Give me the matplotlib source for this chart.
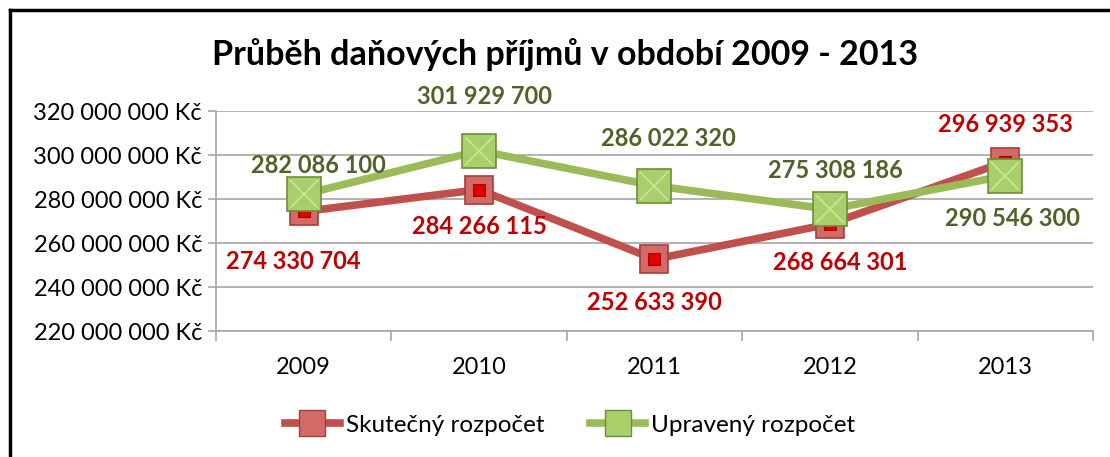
import numpy as np
import matplotlib.pyplot as plt
from matplotlib.lines import Line2D
from matplotlib.ticker import FuncFormatter, FixedLocator

plt.rcParams['font.family'] = ['Lato', 'DejaVu Sans']

# data
roky = ['2009', '2010', '2011', '2012', '2013']
skutecny = [274330704, 284266115, 252633390, 268664301, 296939353]
upraveny = [282086100, 301929700, 286022320, 275308186, 290546300]

# posun popisku v pixelech
off_skut = [(-10, -50), (0, -37), (0, -43), (10, -39), (0, 37)]
off_upr = [(15, 29), (5, 54), (14, 47), (6, 39), (7, -43)]

red = '#C0504D'
red_txt = '#C00000'
green = '#9BBB59'
green_txt = '#4F6228'

fig = plt.figure(figsize=(11.1, 4.57), dpi=100)
ax = fig.add_axes([0.1946, 0.2757, 0.79, 0.4814])

x = np.arange(len(roky))


def fmt(v):
    return f'{v:,.0f}'.replace(',', ' ')


ax.plot(x, skutecny, color=red, lw=5.5, solid_joinstyle='round', zorder=3)
ax.plot(x, skutecny, ls='none', marker='s', ms=20, mfc='#D46A67', mec='#A33E3B', mew=1.2, zorder=4)
ax.plot(x, skutecny, ls='none', marker='s', ms=9, mfc='#E00000', mec='#B00000', mew=0.8, zorder=5)

ax.plot(x, upraveny, color=green, lw=5.5, solid_joinstyle='round', zorder=6)
ax.plot(x, upraveny, ls='none', marker='s', ms=24, mfc='#A9CF6A', mec='#6E8C3A', mew=1.2, zorder=7)
ax.plot(x, upraveny, ls='none', marker='x', ms=20, mec='#C7E59A', mew=1.2, zorder=8)

for i in range(len(roky)):
    ax.annotate(fmt(skutecny[i]), (x[i], skutecny[i]), xytext=off_skut[i], textcoords='offset pixels',
                ha='center', va='center', fontsize=17, fontweight='bold', color=red_txt, zorder=9)
    ax.annotate(fmt(upraveny[i]), (x[i], upraveny[i]), xytext=off_upr[i], textcoords='offset pixels',
                ha='center', va='center', fontsize=17, fontweight='bold', color=green_txt, zorder=9)

ax.set_xlim(-0.5, 4.5)
ax.set_ylim(220000000, 320000000)
ax.set_yticks(np.arange(220000000, 320000001, 20000000))
ax.yaxis.set_major_formatter(FuncFormatter(lambda v, p: fmt(v) + ' Kč'))
ax.yaxis.grid(True, color='#A6A6A6', lw=1.2)
ax.set_axisbelow(True)

ax.set_xticks(x)
ax.set_xticklabels(roky)
ax.xaxis.set_minor_locator(FixedLocator(np.arange(-0.5, 4.6, 1)))
ax.tick_params(axis='x', which='major', length=0, pad=19, labelsize=17)
ax.tick_params(axis='x', which='minor', length=7, color='#A6A6A6', width=1.2)
ax.tick_params(axis='y', length=6, color='#A6A6A6', width=1.2, labelsize=17, pad=4)

for s in ['top', 'right']:
    ax.spines[s].set_visible(False)
for s in ['left', 'bottom']:
    ax.spines[s].set_color('#A6A6A6')
    ax.spines[s].set_linewidth(1.2)

fig.text(0.509, 0.88, 'Průběh daňových příjmů v období 2009 - 2013', ha='center', va='center',
         fontsize=24.5, fontweight='bold')

# legenda
h1 = Line2D([], [], color=red, lw=5.5, marker='s', ms=19, mfc='#D46A67', mec='#A33E3B')
h2 = Line2D([], [], color=green, lw=5.5, marker='s', ms=19, mfc='#A9CF6A', mec='#6E8C3A')
fig.legend([h1, h2], ['Skutečný rozpočet', 'Upravený rozpočet'], loc='center',
           bbox_to_anchor=(0.5135, 0.07), ncol=2, frameon=False, fontsize=17.5,
           handlelength=2.25, columnspacing=1.9, handletextpad=0.25)

# ramecek
fig.add_artist(Line2D([10 / 1110, 10 / 1110], [0, 1 - 10 / 457], color='black', lw=2.5, transform=fig.transFigure))
fig.add_artist(Line2D([10 / 1110, 1], [1 - 10 / 457, 1 - 10 / 457], color='black', lw=2.5, transform=fig.transFigure))

fig.savefig('out.png', dpi=100)
